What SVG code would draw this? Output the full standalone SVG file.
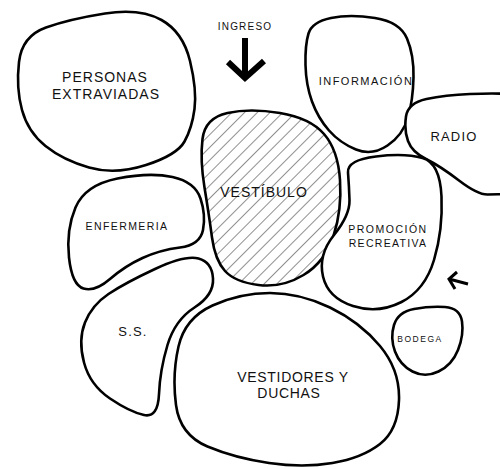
<svg xmlns="http://www.w3.org/2000/svg" width="500" height="469" viewBox="0 0 500 469">
<style>
.blob{fill:#fff;stroke:#000;stroke-width:2.6;stroke-linejoin:round}
.hatch{fill:url(#hatch);stroke:#000;stroke-width:2.6;stroke-linejoin:round}
.lbl{font-family:"Liberation Sans",Arial,sans-serif;fill:#111;text-anchor:middle}
.arrow{fill:none;stroke:#000;stroke-linecap:butt;stroke-linejoin:miter}
</style>
<defs>
<pattern id="hatch" width="9" height="9" patternUnits="userSpaceOnUse" patternTransform="rotate(45)">
<rect width="9" height="9" fill="#fff"/>
<line x1="0" y1="0" x2="0" y2="9" stroke="#222" stroke-width="1"/>
</pattern>
</defs>
<rect width="500" height="469" fill="#fff"/>
<g id="personas">
<path class="blob" d="M19,62 Q22,36 46,27.5 Q70,19 105,13.5 Q140,8 161.5,20 Q183,32 190,61 Q197,90 194.5,109 Q192,128 184.5,141.5 Q177,155 146,165 Q115,175 89,167.5 Q63,160 45.5,146 Q28,132 22,110 Q16,88 19,62 Z"/>
<text class="lbl" x="105" y="82" font-size="14" letter-spacing="1">PERSONAS</text>
<text class="lbl" x="106" y="99" font-size="14" letter-spacing="1">EXTRAVIADAS</text>
</g>
<g id="informacion">
<path class="blob" d="M308.5,33.5 Q312,22 331,18 Q350,14 375,18 Q400,22 407,38.5 Q414,55 413.5,77.5 Q413,100 408,117.5 Q403,135 387.5,145.5 Q372,156 356,149.5 Q340,143 329,130.5 Q318,118 312,101.5 Q306,85 305.5,65 Q305,45 308.5,33.5 Z"/>
<text class="lbl" x="366" y="85" font-size="11" letter-spacing="1.5">INFORMACIÓN</text>
</g>
<g id="radio">
<path class="blob" d="M406,116.5 Q408,103 426.5,99 Q445,95 470,94 Q495,93 507.5,94 Q520,95 520,145 Q520,195 509,194.5 Q498,194 488,194.5 Q478,195 459,180.5 Q440,166 426,159 Q412,152 408,141 Q404,130 406,116.5 Z"/>
<text class="lbl" x="454" y="141" font-size="13" letter-spacing="1.2">RADIO</text>
</g>
<g id="vestibulo">
<path class="hatch" d="M202.5,139 Q205,118 227.5,113 Q250,108 280,113 Q310,118 324,134 Q338,150 340,180 Q342,210 333.5,236 Q325,262 303.5,275 Q282,288 258.5,285 Q235,282 225,271 Q215,260 212,237.5 Q209,215 204.5,187.5 Q200,160 202.5,139 Z"/>
<text class="lbl" x="264" y="197" font-size="14" letter-spacing="1">VESTÍBULO</text>
</g>
<g id="enfermeria">
<path class="blob" d="M75.5,207.5 Q85,185 117.5,178.5 Q150,172 172.5,177 Q195,182 200.5,198.5 Q206,215 203,230 Q200,245 180,247.5 Q160,250 142.5,258 Q125,266 110,279 Q95,292 83.5,288.5 Q72,285 69,257.5 Q66,230 75.5,207.5 Z"/>
<text class="lbl" x="127" y="230" font-size="10.5" letter-spacing="1.4">ENFERMERIA</text>
</g>
<g id="promocion">
<path class="blob" d="M348,172.5 Q347,160 376,156.5 Q405,153 422.5,158 Q440,163 441.5,196.5 Q443,230 434,260 Q425,290 401.5,302 Q378,314 353,306 Q328,298 323,276.5 Q318,255 334,235 Q350,215 349.5,200 Q349,185 348,172.5 Z"/>
<text class="lbl" x="388" y="233" font-size="10.5" letter-spacing="1.5">PROMOCIÓN</text>
<text class="lbl" x="388" y="247" font-size="10.5" letter-spacing="1.3">RECREATIVA</text>
</g>
<g id="ss">
<path class="blob" d="M108.5,294 Q125,283 155,269 Q185,255 198.5,258.5 Q212,262 213,278.5 Q214,295 194.5,307.5 Q175,320 167.5,345 Q160,370 159,394 Q158,418 144,415 Q130,412 110,398.5 Q90,385 84,362.5 Q78,340 85,322.5 Q92,305 108.5,294 Z"/>
<text class="lbl" x="133" y="336" font-size="13" letter-spacing="1.2">S.S.</text>
</g>
<g id="vestidores">
<path class="blob" d="M178.5,346.5 Q185,318 212.5,305.5 Q240,293 270,293 Q300,293 330,307.5 Q360,322 380,346 Q400,370 399,400 Q398,430 380,444 Q362,458 332.5,463 Q303,468 269,463 Q235,458 207.5,446.5 Q180,435 176,405 Q172,375 178.5,346.5 Z"/>
<text class="lbl" x="293" y="382" font-size="14" letter-spacing="0.7">VESTIDORES Y</text>
<text class="lbl" x="289" y="398" font-size="14" letter-spacing="0.7">DUCHAS</text>
</g>
<g id="bodega">
<path class="blob" d="M394,325 Q398,312 414,309 Q430,306 445,307 Q460,308 462,321.5 Q464,335 458,350 Q452,365 438.5,371.5 Q425,378 412.5,371.5 Q400,365 395,351.5 Q390,338 394,325 Z"/>
<text class="lbl" x="420" y="342" font-size="8.5" letter-spacing="1.5">BODEGA</text>
</g>
<g id="ingreso">
<text class="lbl" x="245" y="30" font-size="10" letter-spacing="1.2">INGRESO</text>
</g>
<g id="connectors">
<path class="arrow" stroke-width="6" d="M245,38 V76 M228,62 L245,78 L264,61"/>
<path class="arrow" stroke-width="3" d="M449,279 L468,284 M457,272 L449,279 L455,289"/>
</g>
</svg>
